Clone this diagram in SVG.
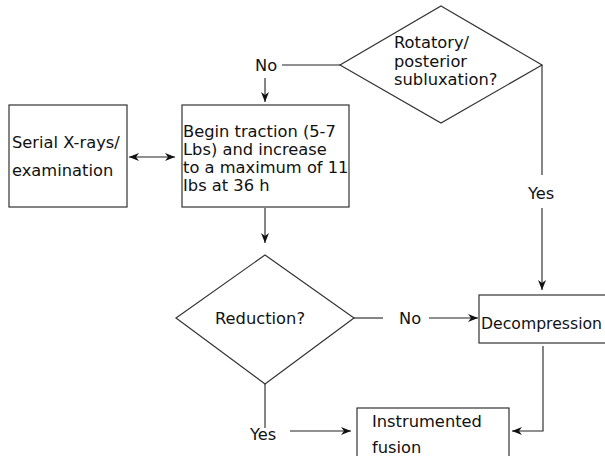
<svg xmlns="http://www.w3.org/2000/svg" width="605" height="456" viewBox="0 0 605 456">
<style>
.s{fill:#fff;stroke:#333;stroke-width:1.2}
.c{fill:none;stroke:#222;stroke-width:1.1}
text{font-family:"DejaVu Sans",Verdana,sans-serif;font-size:16.3px;fill:#111}
</style>
<defs>
<marker id="a" viewBox="0 0 10 8" refX="10" refY="4" markerWidth="10" markerHeight="8" markerUnits="userSpaceOnUse" orient="auto-start-reverse">
<path d="M0,0 L10,4 L0,8 L3,4 z" fill="#111"/>
</marker>
</defs>
<g id="rotatory">
<polygon class="s" points="441,6 542,65 441,123 340,65"/>
<text x="394" y="48">Rotatory/</text>
<text x="394" y="66.5">posterior</text>
<text x="394" y="85">subluxation?</text>
</g>
<g id="serial">
<rect class="s" x="9" y="105" width="118" height="102"/>
<text x="12" y="148">Serial X-rays/</text>
<text x="12" y="176">examination</text>
</g>
<g id="traction">
<rect class="s" x="182" y="105" width="167" height="102"/>
<text x="183" y="137">Begin traction (5-7</text>
<text x="183" y="155">Lbs) and increase</text>
<text x="183" y="173">to a maximum of 11</text>
<text x="183" y="191">Ibs at 36 h</text>
</g>
<g id="reduction">
<polygon class="s" points="265,255 354,318 265,384 176,318"/>
<text x="215" y="324">Reduction?</text>
</g>
<g id="decompression">
<rect class="s" x="479" y="295" width="140" height="48"/>
<text x="481" y="329" style="font-size:16px" textLength="121" lengthAdjust="spacingAndGlyphs">Decompression</text>
</g>
<g id="fusion">
<rect class="s" x="357" y="408" width="152" height="60"/>
<text x="372" y="427">Instrumented</text>
<text x="372" y="453">fusion</text>
</g>
<g id="connectors">
<line class="c" x1="340" y1="65" x2="282" y2="65"/>
<text x="255" y="71">No</text>
<line class="c" x1="265" y1="78" x2="265" y2="102" marker-end="url(#a)"/>
<line class="c" x1="129" y1="157" x2="175" y2="157" marker-start="url(#a)" marker-end="url(#a)"/>
<line class="c" x1="265" y1="208" x2="265" y2="243" marker-end="url(#a)"/>
<line class="c" x1="354" y1="318" x2="383" y2="318"/>
<text x="399" y="324">No</text>
<line class="c" x1="429" y1="318" x2="478" y2="318" marker-end="url(#a)"/>
<line class="c" x1="542" y1="65" x2="542" y2="175"/>
<text x="528" y="199">Yes</text>
<line class="c" x1="542" y1="208" x2="542" y2="290" marker-end="url(#a)"/>
<polyline class="c" points="543,346 543,431 512,431" marker-end="url(#a)"/>
<line class="c" x1="265" y1="384" x2="265" y2="428"/>
<text x="250" y="440">Yes</text>
<line class="c" x1="290" y1="431" x2="351" y2="431" marker-end="url(#a)"/>
</g>
</svg>
